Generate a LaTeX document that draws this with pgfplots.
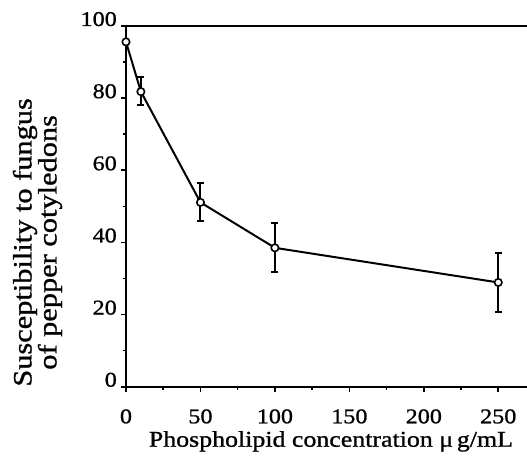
\documentclass[border=0pt]{standalone}
\usepackage{fontspec}
\setmainfont{Liberation Serif}[FakeStretch=1.15, FakeBold=1]
\usepackage{pgfplots}
\pgfplotsset{compat=1.18}
\begin{document}
\begin{tikzpicture}[font=\fontsize{21}{25}\selectfont]
\path[use as bounding box] (-126pt,-68.3pt) rectangle (401pt,360.7pt+26pt);
\begin{axis}[
  scale only axis, width=401pt, height=360.7pt,
  at={(0,0)}, anchor=south west,
  xmin=0, xmax=269.3, ymin=0, ymax=100,
  axis lines=left, axis line style={-, line width=2pt},
  xtick={0,50,...,250}, ytick={0,20,...,100},
  minor x tick num=1, minor y tick num=1,
  tick align=outside, major tick length=5pt, minor tick length=3pt,
  every tick/.style={line width=1.6pt, black},
  /pgf/number format/assume math mode=true,
  xticklabel style={anchor=base, yshift=-31.6pt, inner sep=0pt},
  yticklabel style={anchor=base east, xshift=-4pt, inner sep=0pt},
  clip=false,
  xlabel={Phospholipid concentration μ\,g/mL},
  ylabel={Susceptibility to fungus\\of pepper cotyledons},
  xlabel style={at={(rel axis cs:0.511,-0.1664)}, anchor=base, inner sep=0pt, font=\fontsize{22.5}{25}\selectfont},
  ylabel style={at={(rel axis cs:-0.2207,0.400)}, anchor=center, align=center, inner sep=0pt, font=\fontsize{26.4}{25}\selectfont},
]
\addplot[black, line width=2pt, mark=*, mark size=3.7pt,
  mark options={fill=white, draw=black, line width=1.6pt},
  error bars/.cd, y dir=both, y explicit,
  error bar style={line width=2pt},
  error mark options={rotate=90, mark size=3.5pt, line width=2pt}]
  table[x=x, y=y, y error plus=ep, y error minus=em] {
x   y    ep   em
0   95.6 0    0
10  81.8 4.0  3.7
50  51.1 5.5  5.2
100 38.5 7.0  6.6
250 28.9 8.1  8.1
};
\draw[line width=2pt] (rel axis cs:0,1) -- (rel axis cs:1,1);
\end{axis}
\end{tikzpicture}
\end{document}
